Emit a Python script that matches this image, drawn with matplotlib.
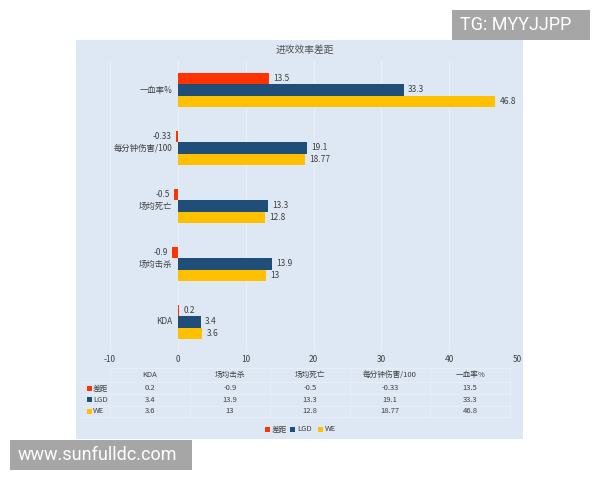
import matplotlib
matplotlib.use("Agg")
import matplotlib.pyplot as plt
from matplotlib.patches import Rectangle
import numpy as np

plt.rcParams['font.family'] = ['Noto Sans CJK SC', 'DejaVu Sans']

title = "进攻效率差距"
categories = ["KDA", "场均击杀", "场均死亡", "每分钟伤害/100", "一血率%"]
series_names = ["差距", "LGD", "WE"]
diff_vals = [0.2, -0.9, -0.5, -0.33, 13.5]
lgd_vals = [3.4, 13.9, 13.3, 19.1, 33.3]
we_vals = [3.6, 13, 12.8, 18.77, 46.8]
diff_labels = ["0.2", "-0.9", "-0.5", "-0.33", "13.5"]
lgd_labels = ["3.4", "13.9", "13.3", "19.1", "33.3"]
we_labels = ["3.6", "13", "12.8", "18.77", "46.8"]
xticks = [-10, 0, 10, 20, 30, 40, 50]

colors = ["#ff3300", "#1f4e79", "#ffc000"]
bg = "#dde8f4"
grid_c = "#e9eff7"
txt_c = "#404040"

W, H = 600, 480
fig = plt.figure(figsize=(6, 4.8), dpi=100)
fig.patch.set_facecolor("white")

def fx(x):
    return x / W

def fy(y):
    return 1 - y / H

# chart area background
fig.patches.append(Rectangle((fx(76), fy(439)), fx(523) - fx(76), fy(40) - fy(439),
                             transform=fig.transFigure, facecolor=bg, edgecolor="none", zorder=-5))

ax = fig.add_axes([fx(110), fy(351), fx(517) - fx(110), fy(61) - fy(351)])
ax.set_zorder(2)
ax.set_facecolor("none")
for s in ax.spines.values():
    s.set_visible(False)

n = len(categories)
y = np.arange(n)
h = 0.19
series = [diff_vals, lgd_vals, we_vals]
labels = [diff_labels, lgd_labels, we_labels]
offsets = [h, 0, -h]
for vals, labs, off, c in zip(series, labels, offsets, colors):
    ax.barh(y + off, vals, height=h, color=c, zorder=3)
    for yi, v, lab in zip(y, vals, labs):
        if v >= 0:
            ax.annotate(lab, (v, yi + off), xytext=(3, 0), textcoords="offset points",
                        ha="left", va="center", fontsize=6, color=txt_c)
        else:
            ax.annotate(lab, (v, yi + off), xytext=(-3, 0), textcoords="offset points",
                        ha="right", va="center", fontsize=6, color=txt_c)

# category labels next to zero axis
for yi, cat in zip(y, categories):
    ax.annotate(cat, (0, yi), xytext=(-4, 0), textcoords="offset points",
                ha="right", va="center", fontsize=6, color=txt_c)

ax.set_xlim(-10, 50)
ax.set_ylim(-0.5, n - 0.5)
ax.set_xticks(xticks)
ax.set_xticklabels([str(t) for t in xticks], fontsize=6, color=txt_c)
ax.tick_params(axis="x", length=0, pad=3)
ax.set_yticks([])
ax.grid(axis="x", color=grid_c, linewidth=1.0, zorder=1)

# title
fig.text(fx(305), fy(50), title, ha="center", va="center", fontsize=7, color="#505050")

# data table
col_left = 110
col_w = 80
row_ys = [375, 388, 399.5, 411]
line_c = "#e6edf6"
for i, cat in enumerate(categories):
    cx = col_left + col_w * (i + 0.5)
    fig.text(fx(cx), fy(row_ys[0]), cat, ha="center", va="center", fontsize=5.5, color=txt_c)
    for r, labs in enumerate(labels):
        fig.text(fx(cx), fy(row_ys[r + 1]), labs[i], ha="center", va="center",
                 fontsize=5.5, color=txt_c)
for r, (name, c) in enumerate(zip(series_names, colors)):
    yy = row_ys[r + 1]
    fig.patches.append(Rectangle((fx(87), fy(yy + 2.5)), fx(5), 5 / H, transform=fig.transFigure,
                                 facecolor=c, edgecolor="none"))
    fig.text(fx(93), fy(yy), name, ha="left", va="center", fontsize=5.5, color=txt_c)

# faint table grid
for yy in [368, 382, 394, 405.5, 417]:
    x0 = 110 if yy == 368 else 82
    fig.add_artist(plt.Line2D([fx(x0), fx(510)], [fy(yy), fy(yy)], transform=fig.transFigure,
                              color=line_c, linewidth=0.8))
for i in range(6):
    xx = col_left + col_w * i
    fig.add_artist(plt.Line2D([fx(xx), fx(xx)], [fy(368), fy(417)], transform=fig.transFigure,
                              color=line_c, linewidth=0.8))

# legend
lx = 265
for name, c in zip(series_names, colors):
    fig.patches.append(Rectangle((fx(lx), fy(431.5)), fx(5), 5 / H, transform=fig.transFigure,
                                 facecolor=c, edgecolor="none"))
    t = fig.text(fx(lx + 7), fy(429), name, ha="left", va="center", fontsize=5.5, color=txt_c)
    lx += 7 + (14 if name == "差距" else 17) + 4

# watermark boxes
fig.patches.append(Rectangle((fx(452), fy(40)), fx(590) - fx(452), fy(10) - fy(40),
                             transform=fig.transFigure, facecolor="#a6a6a6", edgecolor="none", zorder=5))
fig.text(fx(516), fy(25), "TG: MYYJJPP", ha="center", va="center", fontsize=13, color="white",
         family=["Roboto", "DejaVu Sans"], zorder=6)
fig.patches.append(Rectangle((fx(10), fy(470)), fx(192) - fx(10), fy(440) - fy(470),
                             transform=fig.transFigure, facecolor="#a6a6a6", edgecolor="none", zorder=5))
fig.text(fx(97), fy(455), "www.sunfulldc.com", ha="center", va="center", fontsize=13, color="white",
         family=["Roboto", "DejaVu Sans"], zorder=6)

fig.savefig("out.png", dpi=100, facecolor="white")
